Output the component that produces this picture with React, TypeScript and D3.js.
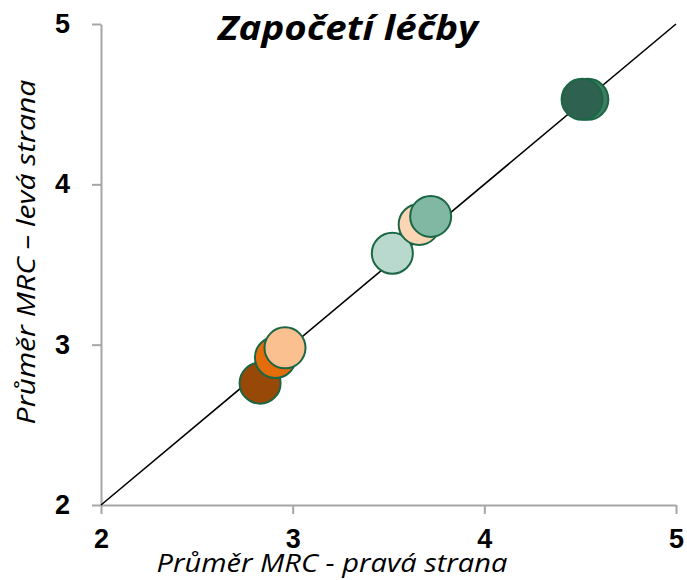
import React, { useEffect, useRef } from 'react';
import * as d3 from 'd3';

const ticks = [2, 3, 4, 5];
// points in draw order (later ones on top)
const rightSide = [2.83, 2.91, 2.96, 3.52, 3.66, 3.72, 4.54, 4.51];
const leftSide = [2.76, 2.92, 2.98, 3.57, 3.75, 3.8, 4.53, 4.53];
const fills = ['#984807', '#e46c0a', '#fac090', '#b9d9ce', '#fcd5b5', '#80b8a3', '#3f7c63', '#2e6150'];

const W = 687;
const H = 580;

const App: React.FC = () => {
  const svgRef = useRef<SVGSVGElement | null>(null);

  useEffect(() => {
    const svgEl = svgRef.current;
    if (!svgEl) return;
    const svg = d3.select(svgEl);
    svg.selectAll('*').remove();

    const x = d3.scaleLinear().domain([2, 5]).range([101, 676]);
    const y = d3.scaleLinear().domain([2, 5]).range([505, 24]);

    const xAxis = svg.append('g')
      .attr('transform', `translate(0,${y(2)})`)
      .call(d3.axisBottom(x).tickValues(ticks).tickFormat(d3.format('d')).tickSize(9).tickSizeOuter(0).tickPadding(15));
    const yAxis = svg.append('g')
      .attr('transform', `translate(${x(2)},0)`)
      .call(d3.axisLeft(y).tickValues(ticks).tickFormat(d3.format('d')).tickSize(9).tickSizeOuter(0).tickPadding(22));

    [xAxis, yAxis].forEach((a) => {
      a.select('.domain').attr('stroke', '#a6a6a6').attr('stroke-width', 2);
      a.selectAll('.tick line').attr('stroke', '#a6a6a6').attr('stroke-width', 2);
      a.selectAll('.tick text')
        .attr('fill', '#000')
        .style('font-family', '"Liberation Sans", Arial, sans-serif')
        .style('font-weight', 'bold')
        .style('font-size', '27px');
    });

    svg.append('line')
      .attr('x1', x(2)).attr('y1', y(2))
      .attr('x2', x(5)).attr('y2', y(5))
      .attr('stroke', '#000').attr('stroke-width', 1.6);

    svg.append('g')
      .selectAll('circle')
      .data(rightSide)
      .enter()
      .append('circle')
      .attr('cx', (d) => x(d))
      .attr('cy', (_d, i) => y(leftSide[i]))
      .attr('r', 20.5)
      .attr('fill', (_d, i) => fills[i])
      .attr('stroke', '#1b6645')
      .attr('stroke-width', 2);

    const font = '"Open Sans", "Noto Sans", sans-serif';

    // italic labels, widened a little to the span seen in the picture
    const label = (txt: string, cx: number, cy: number, rot: number, size: number, bold: boolean, target: number) => {
      const g = svg.append('g').attr('transform', `translate(${cx},${cy}) rotate(${rot})`);
      const t = g.append('text')
        .attr('text-anchor', 'middle')
        .style('font-family', font)
        .style('font-weight', bold ? 'bold' : 'normal')
        .style('font-style', 'italic')
        .style('font-size', `${size}px`)
        .text(txt);
      const len = (t.node() as SVGTextElement).getComputedTextLength();
      t.attr('transform', `scale(${target / len},1)`);
    };

    label('Započetí léčby', 348, 40, 0, 34, true, 260);
    label('Průměr MRC - pravá strana', 332, 572, 0, 25, false, 351);
    label('Průměr MRC – levá strana', 35, 252, -90, 25, false, 345);
  }, []);

  return (
    <svg
      ref={svgRef}
      width={W}
      height={H}
      style={{ position: 'absolute', left: 0, top: 0, background: '#fff' }}
    />
  );
};

export default App;
